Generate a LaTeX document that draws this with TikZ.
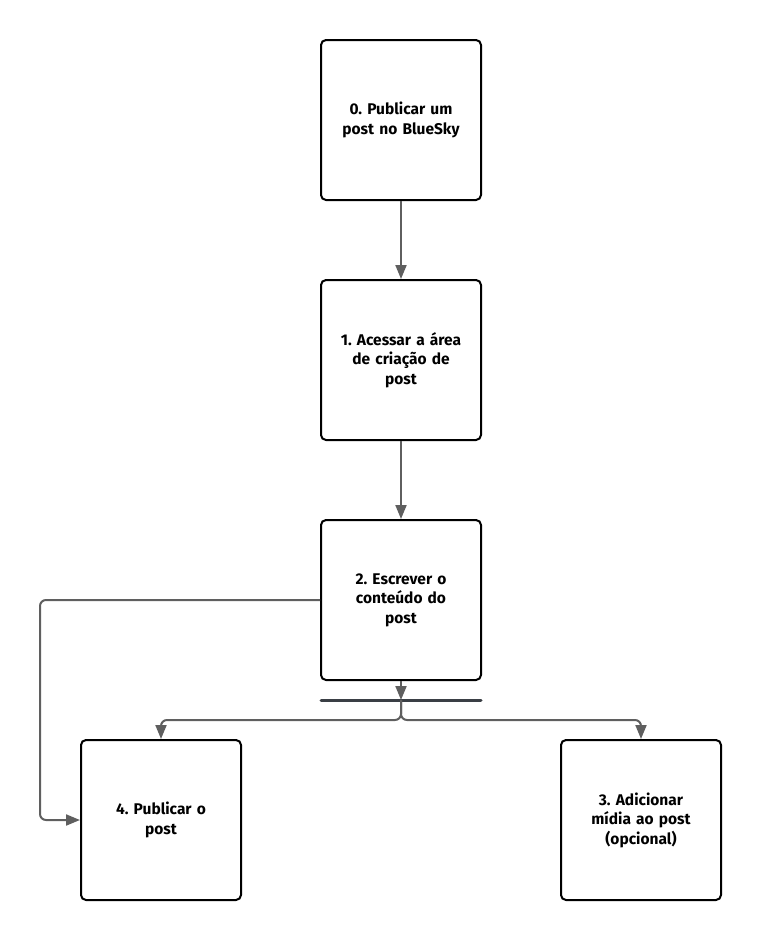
\documentclass[tikz,border=0pt]{standalone}
\usepackage{fontspec}
\setmainfont{Fira Sans}
\usetikzlibrary{arrows.meta}
\definecolor{linegray}{HTML}{5F5F5F}
\definecolor{bargray}{HTML}{3A3F45}
\frenchspacing
\begin{document}
\begin{tikzpicture}[x=1pt,y=-1pt,
  stepbox/.style={draw=black,line width=2pt,rounded corners=5pt,minimum width=160pt,minimum height=160pt,inner sep=0pt,align=center,font=\fontsize{15.5}{19.5}\selectfont\bfseries,text width=144pt},
  conn/.style={draw=linegray,line width=2pt,-{Triangle[length=14pt,width=11pt]}},
  plainconn/.style={draw=linegray,line width=2pt}]
\useasboundingbox (0,0) rectangle (761,940);
\node[stepbox] (b0) at (401,120) {0. Publicar um\\post no BlueSky};
\node[stepbox] (b1) at (401,360) {1. Acessar a área\\de criação de\\post};
\node[stepbox] (b2) at (401,600) {2. Escrever o\\conteúdo do\\post};
\node[stepbox] (b4) at (161,820) {4. Publicar o\\post};
\node[stepbox] (b3) at (641,820) {3. Adicionar\\mídia ao post\\(opcional)};
\coordinate (barL) at (321,700);
\coordinate (barR) at (481,700);
\coordinate (barM) at (401,700);
\draw[bargray,line width=3pt,line cap=round] (barL) -- (barR);
\draw[conn] (b0.south) -- (b1.north);
\draw[conn] (b1.south) -- (b2.north);
\draw[conn] (b2.south) -- (barM);
\draw[conn,rounded corners=6pt] (barM) -- (401,720) -- (161,720) -- (b4.north);
\draw[conn,rounded corners=6pt] (barM) -- (401,720) -- (641,720) -- (b3.north);
\draw[conn,rounded corners=6pt] (b2.west) -- (40,600) -- (40,820) -- (b4.west);
\end{tikzpicture}
\end{document}
